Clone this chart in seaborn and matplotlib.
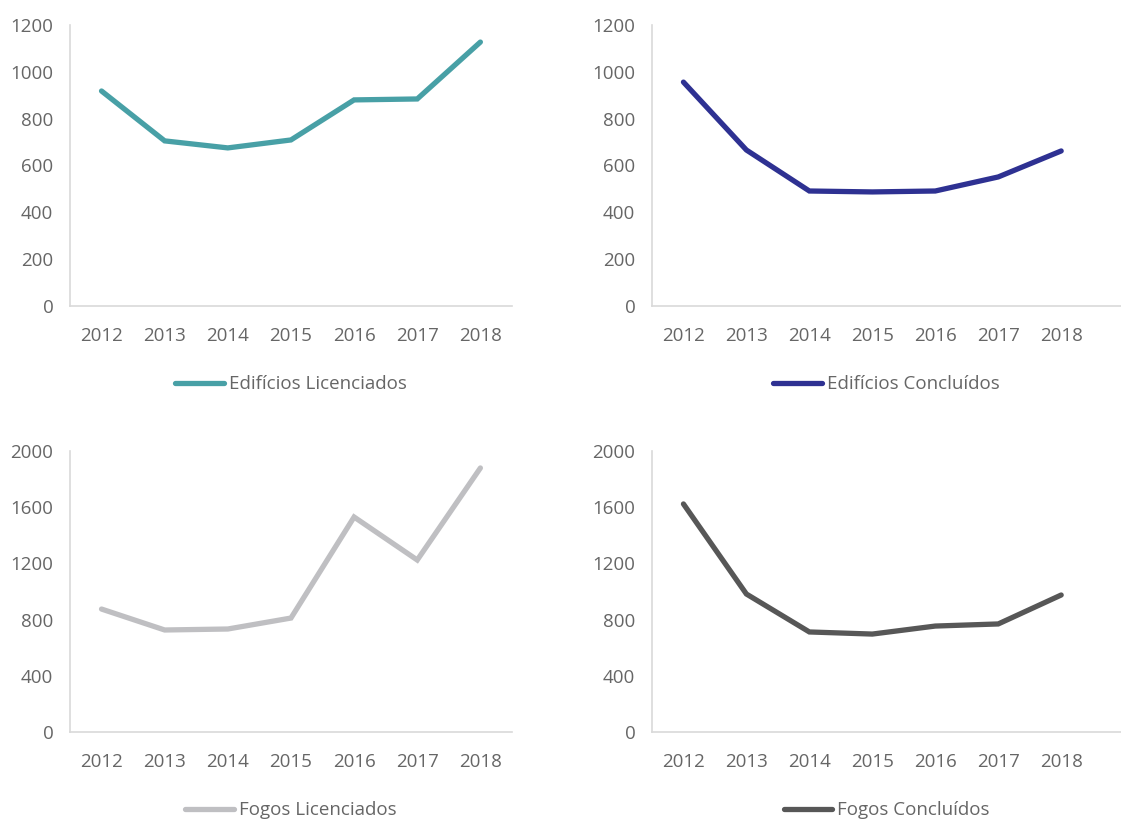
import pandas as pd
import numpy as np
import matplotlib
matplotlib.use("Agg")
import matplotlib.pyplot as plt
import seaborn as sns

# Values
years = [2012, 2013, 2014, 2015, 2016, 2017, 2018]
edificios_licenciados = [918, 705, 675, 709, 880, 884, 1127]
edificios_concluidos = [956, 666, 491, 487, 491, 551, 662]
fogos_licenciados = [875, 726, 733, 811, 1530, 1224, 1879]
fogos_concluidos = [1623, 982, 712, 697, 754, 769, 975]

panels = [
    ("Edifícios Licenciados", edificios_licenciados, "#48A0A6", [0, 200, 400, 600, 800, 1000, 1200]),
    ("Edifícios Concluídos", edificios_concluidos, "#2E3192", [0, 200, 400, 600, 800, 1000, 1200]),
    ("Fogos Licenciados", fogos_licenciados, "#BFBFC2", [0, 400, 800, 1200, 1600, 2000]),
    ("Fogos Concluídos", fogos_concluidos, "#575757", [0, 400, 800, 1200, 1600, 2000]),
]

sns.set_style("white")
plt.rcParams['font.family'] = ['Open Sans', 'DejaVu Sans']
text_col = "#666666"
fsize = 13.5

fig = plt.figure(figsize=(11.21, 8.21), dpi=100)

# axes boxes in figure fraction: left, bottom, width, height
boxes = [
    (0.0624, 0.6273, 0.3943, 0.3423),
    (0.5816, 0.6273, 0.4184, 0.3423),
    (0.0624, 0.1084, 0.3943, 0.3423),
    (0.5816, 0.1084, 0.4184, 0.3423),
]
right_lim = [6.5, 6.95, 6.5, 6.95]

for i, (name, vals, col, yt) in enumerate(panels):
    ax = fig.add_axes(boxes[i])
    df = pd.DataFrame({"pos": np.arange(len(years)), "valor": vals, "serie": name})
    sns.lineplot(data=df, x="pos", y="valor", color=col, linewidth=3.8,
                 label=name, ax=ax, solid_capstyle="round", solid_joinstyle="miter")
    ax.set_xlim(-0.5, right_lim[i])
    ax.set_ylim(0, yt[-1])
    ax.set_xticks(range(len(years)))
    ax.set_xticklabels([str(y) for y in years])
    ax.set_yticks(yt)
    ax.set_xlabel("")
    ax.set_ylabel("")
    ax.tick_params(axis="x", length=0, pad=15, labelsize=fsize, labelcolor=text_col)
    ax.tick_params(axis="y", length=0, pad=12, labelsize=fsize, labelcolor=text_col)
    for s in ["top", "right"]:
        ax.spines[s].set_visible(False)
    for s in ["left", "bottom"]:
        ax.spines[s].set_color("#D9D9D9")
        ax.spines[s].set_linewidth(1.2)
    ax.grid(False)
    leg = ax.legend(loc="center", bbox_to_anchor=(0.5, -0.278), frameon=False,
                    fontsize=fsize, handlelength=2.6, handletextpad=0.25)
    for t in leg.get_texts():
        t.set_color(text_col)

fig.savefig("out.png", dpi=100)
